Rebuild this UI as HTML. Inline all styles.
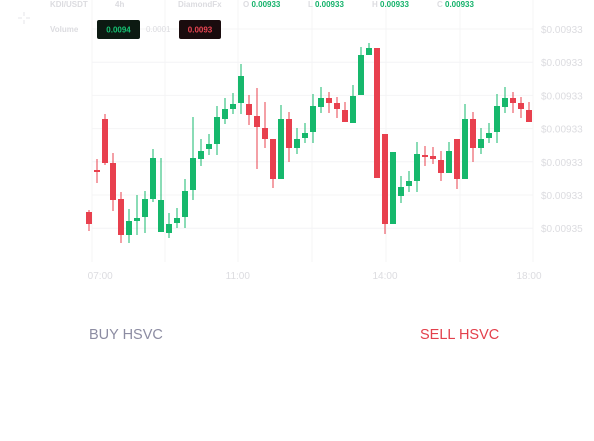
<!DOCTYPE html>
<html><head><meta charset="utf-8">
<style>
body{margin:0;background:#fff;width:594px;height:441px;overflow:hidden;font-family:"Liberation Sans",sans-serif;}
svg{position:absolute;left:0;top:0}
.btn{position:absolute;font-size:14.5px;}
</style></head><body>
<svg id="chart" width="594" height="441">
  <g id="grid"></g>
  <g id="candles"></g>
  <g id="axes"></g>
  <g font-size="8" font-weight="bold">
    <text x="50" y="7" fill="#dcdce0">KDI/USDT</text>
    <text x="115" y="7" fill="#dcdce0">4h</text>
    <text x="178" y="7" fill="#dcdce0">DiamondFx</text>
    <text x="243" y="7" fill="#dcdce0">O <tspan fill="#14b26a">0.00933</tspan></text>
    <text x="308" y="7" fill="#dcdce0">L <tspan fill="#14b26a">0.00933</tspan></text>
    <text x="372" y="7" fill="#dcdce0">H <tspan fill="#14b26a">0.00933</tspan></text>
    <text x="437" y="7" fill="#dcdce0">C <tspan fill="#14b26a">0.00933</tspan></text>
    <text x="50" y="32" fill="#dcdce0">Volume</text>
    <rect x="97" y="20" width="43" height="19" rx="2" fill="#0c1a12"/>
    <text x="118.5" y="32.5" fill="#16c273" text-anchor="middle">0.0094</text>
    <text x="146" y="32" fill="#dcdce0" font-weight="normal">0.0001</text>
    <rect x="179" y="20" width="42" height="19" rx="2" fill="#1a0c0e"/>
    <text x="200" y="32.5" fill="#ea4452" text-anchor="middle">0.0093</text>
  </g>
  <g stroke="#e4e4e8" stroke-width="1">
    <line x1="24" y1="12" x2="24" y2="16"/><line x1="24" y1="20" x2="24" y2="24"/>
    <line x1="18" y1="18" x2="22" y2="18"/><line x1="26" y1="18" x2="30" y2="18"/>
  </g>
</svg>
<div class="btn" style="left:89px;top:327px;color:#8c8ca2">BUY HSVC</div>
<div class="btn" style="left:420px;top:327px;color:#e3404c">SELL HSVC</div>
<script>
const opens =[38,80,131,87,51,15,29,33,51,18,17,27,33,60,91,101,106,131,141,147,146,134,122,111,71,131,102,112,118,143,152,147,140,127,155,195,202,116,26,54,64,69,95,94,90,77,111,71,131,102,112,118,143,152,147,140];
const highs =[40,91,136,97,58,41,55,59,101,92,37,42,71,133,111,116,144,152,157,186,155,162,148,111,145,138,122,127,156,163,158,153,148,165,203,207,202,116,98,74,79,108,104,103,99,108,111,146,138,122,127,156,163,158,153,148];
const lows  =[19,67,85,39,7,7,15,17,48,18,12,22,22,50,84,95,95,126,136,136,125,81,102,62,71,88,96,107,107,137,137,132,128,127,155,195,72,16,26,47,58,58,84,86,69,77,61,71,88,96,107,107,137,137,132,128];
const closes=[26,78,87,50,15,29,32,51,92,50,26,32,59,92,99,106,133,141,146,174,135,123,111,71,131,102,111,117,144,152,147,141,128,154,195,202,72,26,98,63,69,96,94,91,77,99,71,131,102,111,117,144,152,147,141,128];
const priceTicks=["$0.00933","$0.00933","$0.00933","$0.00933","$0.00933","$0.00933","$0.00935"];
const timeLabels=["07:00","11:00","14:00","18:00"];
const timeIndex=[1.4,18.6,37,55];

const NS="http://www.w3.org/2000/svg";
const xScale=i=>89+8*i;
const yScale=v=>250-v;
function mk(tag,attrs,parent){const e=document.createElementNS(NS,tag);for(const k in attrs)e.setAttribute(k,attrs[k]);parent.appendChild(e);return e;}
const grid=document.getElementById('grid'),cg=document.getElementById('candles'),ax=document.getElementById('axes');
[92,165,238,312,386,460,533].forEach(x=>{const l=mk('line',{x1:x,x2:x,y1:0,y2:262,stroke:'#f4f4f6'},grid);

});
priceTicks.forEach((t,i)=>{const y=29+i*33.2;
const l=mk('line',{x1:92,x2:533,y1:y,y2:y,stroke:'#f4f4f6'},grid);


const tx=mk('text',{x:541,y:y+4,fill:'#dcdce0','font-size':'10'},ax);tx.textContent=t;

});
timeLabels.forEach((t,i)=>{const tx=mk('text',{x:xScale(timeIndex[i]),y:279,fill:'#dcdce0','font-size':'10','text-anchor':'middle'},ax);tx.textContent=t;

});
opens.forEach((o,i)=>{const c=closes[i];const col=c>o?'#16b86c':'#e8404e';
const x=xScale(i);const g=mk('g',{},cg);


mk('line',{x1:x,x2:x,y1:yScale(highs[i]),y2:yScale(lows[i]),stroke:col,'stroke-width':1},g);
const top=yScale(Math.max(o,c)),h=Math.max(2,Math.abs(o-c));
mk('rect',{x:x-3,y:top,width:6,height:h,fill:col},g);});
</script>
</body></html>
